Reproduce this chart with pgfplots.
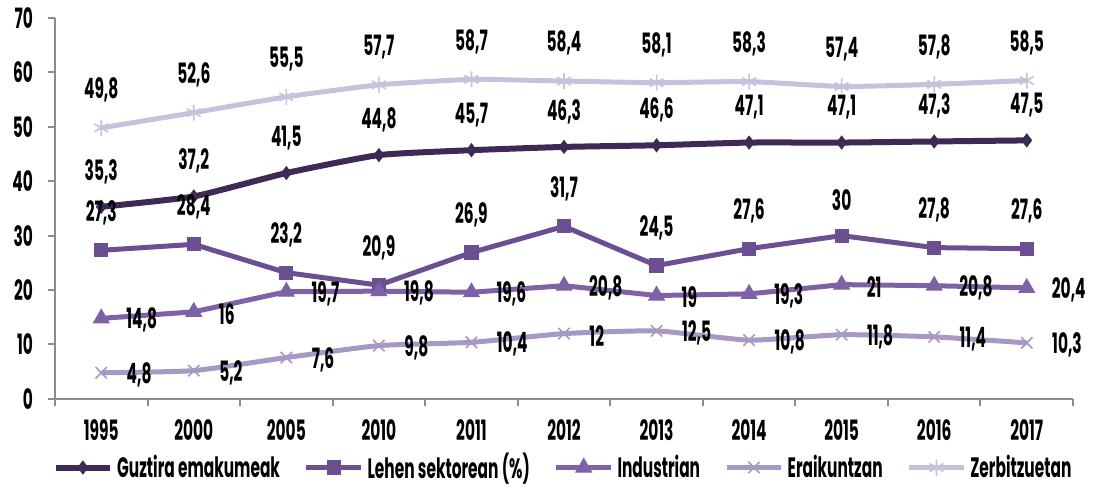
\documentclass[border=0pt]{standalone}
\usepackage{fontspec}
\setmainfont{Poppins}[FakeStretch=0.55]
\usepackage{pgfplots}
\pgfplotsset{compat=1.18}

\definecolor{cguz}{HTML}{3D2B56}
\definecolor{cleh}{HTML}{6B4F92}
\definecolor{cind}{HTML}{7D62A6}
\definecolor{cera}{HTML}{A898C6}
\definecolor{czer}{HTML}{C9C0DC}
\definecolor{caxis}{HTML}{8C8C8C}

\pgfplotstableread{
x guz leh ind era zer
0 35.3 27.3 14.8 4.8 49.8
1 37.2 28.4 16 5.2 52.6
2 41.5 23.2 19.7 7.6 55.5
3 44.8 20.9 19.8 9.8 57.7
4 45.7 26.9 19.6 10.4 58.7
5 46.3 31.7 20.8 12 58.4
6 46.6 24.5 19 12.5 58.1
7 47.1 27.6 19.3 10.8 58.3
8 47.1 30 21 11.8 57.4
9 47.3 27.8 20.8 11.4 57.8
10 47.5 27.6 20.4 10.3 58.5
}\datatable

\begin{document}
\begin{tikzpicture}[font=\bfseries]
\begin{axis}[
  scale only axis, width=509pt, height=190.5pt,
  xmin=-0.5, xmax=10.5, ymin=0, ymax=70,
  ytick={0,10,...,70},
  xtick={-0.5,0.5,...,10.5}, xticklabels={},
  extra x ticks={0,...,10},
  extra x tick labels={1995,2000,2005,2010,2011,2012,2013,2014,2015,2016,2017},
  extra x tick style={major tick length=0pt, xticklabel style={yshift=-7pt}},
  axis x line*=bottom, axis y line*=left,
  axis line style={caxis, line width=1pt, -},
  tick style={caxis, line width=1pt},
  tick align=outside, major tick length=3.5pt,
  yticklabel style={xshift=-4pt},
  /pgf/number format/assume math mode=true,
  /pgf/number format/use comma,
  /pgf/number format/fixed, /pgf/number format/precision=1,
  tick label style={font=\bfseries\fontsize{14}{15}\selectfont, text=black},
  clip=false,
  legend columns=5,
  legend style={draw=none, at={(0.5,-0.18)}, anchor=center, font=\bfseries\fontsize{14}{15}\selectfont,
    /tikz/every even column/.append style={column sep=10pt}},
  legend image code/.code={\draw[mark repeat=2,mark phase=2] plot coordinates {(0cm,0cm)(0.48cm,0cm)(0.96cm,0cm)};},
  nodes near coords,
  every node near coord/.append style={font=\bfseries\fontsize{14}{15}\selectfont, text=black},
]
\path (rel axis cs:-0.054,-0.228) rectangle (rel axis cs:1.0265,1.047);
\addplot[cguz, line width=3pt, smooth, tension=0.3, mark=diamond*, mark size=3.2pt, mark options={fill=cguz, line width=0.5pt},
  every node near coord/.append style={anchor=south, yshift=8pt}] table[x=x,y=guz]{\datatable};
\addlegendentry{Guztira emakumeak}
\addplot[cleh, line width=2.5pt, mark=square*, mark size=3.3pt, mark options={fill=cleh, line width=0.5pt},
  every node near coord/.append style={anchor=south, yshift=9pt}] table[x=x,y=leh]{\datatable};
\addlegendentry{Lehen sektorean (\%)}
\addplot[cind, line width=2.5pt, mark=triangle*, mark size=4.5pt, mark options={fill=cind, line width=0.5pt},
  every node near coord/.append style={anchor=west, xshift=9pt, yshift=-1pt}] table[x=x,y=ind]{\datatable};
\addlegendentry{Industrian}
\addplot[cera, line width=2.5pt, smooth, tension=0.3, mark=x, mark size=4pt, mark options={line width=0.8pt},
  every node near coord/.append style={anchor=west, xshift=9pt, yshift=-1pt}] table[x=x,y=era]{\datatable};
\addlegendentry{Eraikuntzan}
\addplot[czer, line width=2.5pt, smooth, tension=0.3, mark=asterisk, mark size=4pt, mark options={line width=0.8pt},
  every node near coord/.append style={anchor=south, yshift=9pt}] table[x=x,y=zer]{\datatable};
\addlegendentry{Zerbitzuetan}
\end{axis}
\end{tikzpicture}
\end{document}
